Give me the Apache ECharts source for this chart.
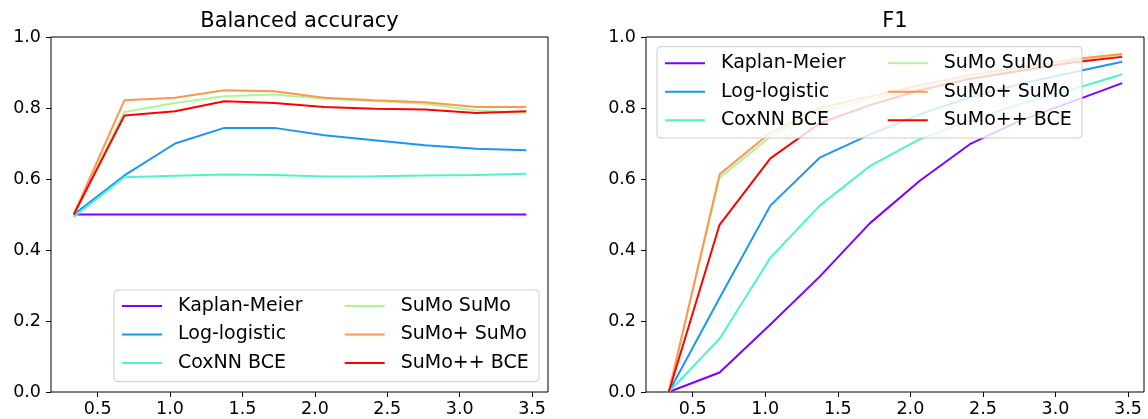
<!DOCTYPE html>
<html>
<head>
<meta charset="utf-8">
<script src="https://cdn.jsdelivr.net/npm/echarts@6/dist/echarts.min.js"></script>
<style>
html,body{margin:0;padding:0;background:#fff;}
#chart{width:1148px;height:419px;}
</style>
</head>
<body>
<div id="chart"></div>
<script>
// ---- data ----
const seriesNames = ['Kaplan-Meier', 'Log-logistic', 'CoxNN BCE', 'SuMo SuMo', 'SuMo+ SuMo', 'SuMo++ BCE'];
const xValues = [0.335, 0.685, 1.035, 1.375, 1.72, 2.065, 2.41, 2.76, 3.115, 3.46];
const xTicks = [0.5, 1.0, 1.5, 2.0, 2.5, 3.0, 3.5];
const yTicks = [0, 0.2, 0.4, 0.6, 0.8, 1.0];

// Balanced accuracy
const baKaplanMeier = [0.5, 0.5, 0.5, 0.5, 0.5, 0.5, 0.5, 0.5, 0.5, 0.5];
const baLogLogistic = [0.5, 0.610, 0.700, 0.744, 0.744, 0.723, 0.709, 0.695, 0.685, 0.681];
const baCoxNN = [0.493, 0.605, 0.609, 0.613, 0.611, 0.607, 0.608, 0.610, 0.611, 0.615];
const baSuMo = [0.5, 0.789, 0.814, 0.833, 0.838, 0.826, 0.820, 0.812, 0.793, 0.786];
const baSuMoPlus = [0.5, 0.822, 0.829, 0.850, 0.847, 0.829, 0.822, 0.816, 0.803, 0.803];
const baSuMoPP = [0.5, 0.779, 0.791, 0.819, 0.814, 0.803, 0.798, 0.796, 0.786, 0.791];

// F1
const f1KaplanMeier = [0, 0.055, 0.19, 0.325, 0.475, 0.595, 0.698, 0.765, 0.818, 0.870];
const f1LogLogistic = [0, 0.265, 0.525, 0.66, 0.725, 0.782, 0.83, 0.868, 0.90, 0.93];
const f1CoxNN = [0, 0.15, 0.378, 0.525, 0.636, 0.712, 0.765, 0.812, 0.852, 0.895];
const f1SuMo = [0, 0.603, 0.72, 0.79, 0.824, 0.855, 0.885, 0.91, 0.932, 0.948];
const f1SuMoPlus = [0, 0.613, 0.73, 0.80, 0.832, 0.864, 0.893, 0.915, 0.937, 0.952];
const f1SuMoPP = [0, 0.471, 0.658, 0.757, 0.808, 0.85, 0.882, 0.905, 0.928, 0.944];

const colors = ['#8000ff', '#1a96f3', '#4df3ce', '#b3f396', '#ff964f', '#ff0000'];

// ---- chart ----
const FONT = 'DejaVu Sans';
const baData = [baKaplanMeier, baLogLogistic, baCoxNN, baSuMo, baSuMoPlus, baSuMoPP];
const f1Data = [f1KaplanMeier, f1LogLogistic, f1CoxNN, f1SuMo, f1SuMoPlus, f1SuMoPP];

function pairs(ys) { return xValues.map((x, i) => [x, ys[i]]); }

const series = [];
[baData, f1Data].forEach((set, gi) => {
  set.forEach((ys, si) => {
    series.push({
      name: seriesNames[si],
      type: 'line',
      xAxisIndex: gi,
      yAxisIndex: gi,
      data: pairs(ys),
      symbol: 'none',
      lineStyle: { width: 2, color: colors[si] },
      itemStyle: { color: colors[si] },
      z: 2,
      animation: false
    });
  });
});

function xAxis(gi) {
  return {
    type: 'value', gridIndex: gi, min: 0.178, max: 3.61,
    axisLine: { show: false },
    splitLine: { show: false },
    axisTick: { show: true, customValues: xTicks, length: 5, lineStyle: { color: '#000', width: 1 } },
    axisLabel: { customValues: xTicks, formatter: v => v.toFixed(1), fontSize: 17.5, fontFamily: FONT, color: '#000', margin: 8 }
  };
}
function yAxis(gi) {
  return {
    type: 'value', gridIndex: gi, min: 0, max: 1, interval: 0.2,
    axisLine: { show: false },
    splitLine: { show: false },
    axisTick: { show: true, length: 5, lineStyle: { color: '#000', width: 1 } },
    axisLabel: { formatter: v => v.toFixed(1), fontSize: 17.5, fontFamily: FONT, color: '#000', margin: 10 }
  };
}

function legend(names, left, top) {
  return {
    orient: 'vertical', left: left, top: top, padding: 0,
    data: names.map(n => ({ name: n })),
    itemWidth: 40, itemHeight: 2, itemGap: 8.5,
    selectedMode: false, z: 10,
    textStyle: { fontSize: 19, lineHeight: 20, fontFamily: FONT, color: '#000', padding: [0, 0, 0, 11] }
  };
}

const option = {
  animation: false,
  backgroundColor: '#fff',
  title: [
    { text: 'Balanced accuracy', left: 299.5, top: 11, textAlign: 'center', padding: 0,
      textStyle: { fontSize: 21, fontWeight: 'normal', fontFamily: FONT, color: '#000' } },
    { text: 'F1', left: 895, top: 11, textAlign: 'center', padding: 0,
      textStyle: { fontSize: 21, fontWeight: 'normal', fontFamily: FONT, color: '#000' } }
  ],
  grid: [
    { left: 51, right: 600, top: 37, bottom: 27, show: true, borderColor: '#000', borderWidth: 1, backgroundColor: 'transparent' },
    { left: 646, right: 4, top: 37, bottom: 27, show: true, borderColor: '#000', borderWidth: 1, backgroundColor: 'transparent' }
  ],
  xAxis: [xAxis(0), xAxis(1)],
  yAxis: [yAxis(0), yAxis(1)],
  legend: [
    legend(seriesNames.slice(0, 3), 121, 296),
    legend(seriesNames.slice(3), 343.7, 296),
    legend(seriesNames.slice(0, 3), 664, 53.3),
    legend(seriesNames.slice(3), 886.7, 53.3)
  ],
  graphic: [
    { type: 'rect', z: 5, shape: { x: 114, y: 290, width: 425, height: 91.7, r: 4 },
      style: { fill: 'rgba(255,255,255,0.8)', stroke: '#cccccc', lineWidth: 1 } },
    { type: 'rect', z: 5, shape: { x: 657, y: 46.7, width: 425, height: 91.3, r: 4 },
      style: { fill: 'rgba(255,255,255,0.8)', stroke: '#cccccc', lineWidth: 1 } }
  ],
  series: series
};

const chart = echarts.init(document.getElementById('chart'), null, { renderer: 'canvas' });
chart.setOption(option);
</script>
</body>
</html>
